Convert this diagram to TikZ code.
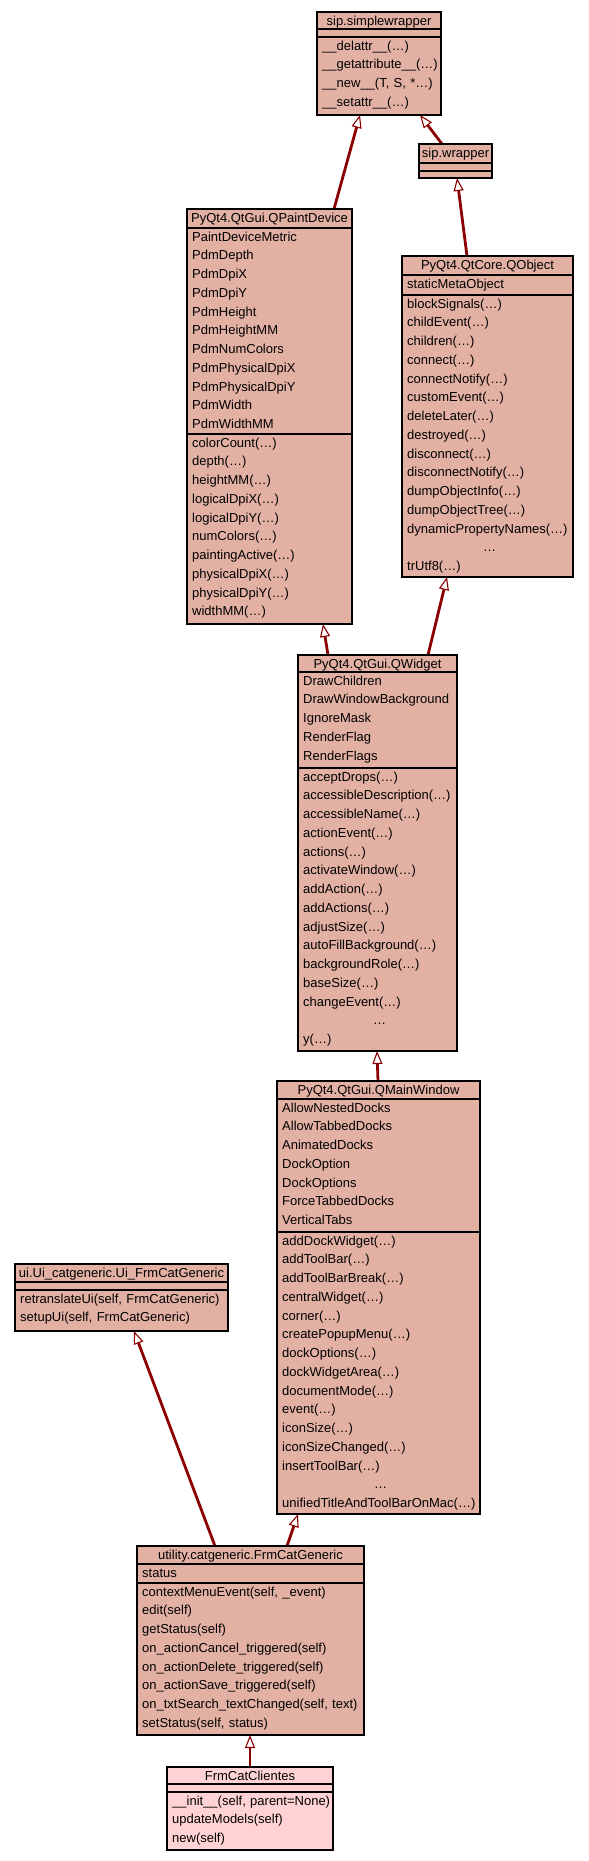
\documentclass[tikz,border=0pt]{standalone}
\usepackage{fontspec}
\setmainfont{Liberation Sans}
\usetikzlibrary{arrows.meta,shadows}
\definecolor{salmon}{RGB}{227,177,164}
\definecolor{pinkfill}{RGB}{255,211,211}
\definecolor{arrowred}{RGB}{139,0,0}
\pgfdeclarelayer{bg}
\pgfsetlayers{bg,main}
\newcommand\umlfont{\fontsize{13}{18.75}\selectfont}
\newcommand\rowfont{\fontsize{13}{18.75}\selectfont\hyphenpenalty=10000\relax\exhyphenpenalty=10000\relax}
\newcommand\topstrut{\vrule width 0pt height 13pt depth 0pt\relax}
\tikzset{
  umlbox/.style={draw=black, line width=1.2pt, inner sep=0pt, outer sep=0pt, anchor=north west,
    drop shadow={shadow xshift=1.2pt, shadow yshift=-1.2pt, fill=black!55, opacity=1}},
  divline/.style={draw=black, line width=1.2pt},
  titletext/.style={anchor=base, inner sep=0pt, font=\umlfont},
  rowtext/.style={anchor=north west, inner sep=0pt, align=left, font=\rowfont},
  inh/.style={draw=arrowred, line width=2.8pt,
    -{Triangle[open,length=13pt,width=10pt,line width=1.1pt,fill=white]}},
}
\newcommand\umlclass[8]{%
  \pgfmathsetmacro\bw{#3-#2}\pgfmathsetmacro\bh{#7-#4}%
  \node[umlbox, fill=#8, minimum width=\bw pt, minimum height=\bh pt] (#1) at (#2,#4) {};
  \draw[divline] (#2,#5) -- (#3,#5);
  \draw[divline] (#2,#6) -- (#3,#6);
}
\newcommand\dotsrow{\leavevmode\hbox to \hsize{\hss…\hss}}
\begin{document}
\begin{tikzpicture}[x=1pt,y=-1pt]
\useasboundingbox (0,0) rectangle (589,1861);

% sip.simplewrapper
\umlclass{sw}{317}{441}{12}{29}{37}{115}{salmon}
\node[titletext] (sw-t) at (379,25) {sip.simplewrapper};
\node[rowtext, text width=118pt] (sw-m) at (322,37) {\topstrut\_\_delattr\_\_(…)\\\_\_getattribute\_\_(…)\\\_\_new\_\_(T, S, *…)\\\_\_setattr\_\_(…)};

% sip.wrapper
\umlclass{wr}{419}{492}{144}{163}{171}{178}{salmon}
\node[titletext] (wr-t) at (455.5,157) {sip.wrapper};

% QPaintDevice
\umlclass{qpd}{187}{352}{209}{228}{434}{624}{salmon}
\node[titletext] (qpd-t) at (269.5,222) {PyQt4.QtGui.QPaintDevice};
\node[rowtext, text width=159pt] (qpd-a) at (192,228) {\topstrut PaintDeviceMetric\\PdmDepth\\PdmDpiX\\PdmDpiY\\PdmHeight\\PdmHeightMM\\PdmNumColors\\PdmPhysicalDpiX\\PdmPhysicalDpiY\\PdmWidth\\PdmWidthMM};
\node[rowtext, text width=159pt] (qpd-m) at (192,434) {\topstrut colorCount(…)\\depth(…)\\heightMM(…)\\logicalDpiX(…)\\logicalDpiY(…)\\numColors(…)\\paintingActive(…)\\physicalDpiX(…)\\physicalDpiY(…)\\widthMM(…)};

% QObject
\umlclass{qo}{402}{573}{256}{275}{295}{577}{salmon}
\node[titletext] (qo-t) at (487.5,269) {PyQt4.QtCore.QObject};
\node[rowtext, text width=165pt] (qo-a) at (407,275) {\topstrut staticMetaObject};
\node[rowtext, text width=165pt] (qo-m) at (407,295) {\topstrut blockSignals(…)\\childEvent(…)\\children(…)\\connect(…)\\connectNotify(…)\\customEvent(…)\\deleteLater(…)\\destroyed(…)\\disconnect(…)\\disconnectNotify(…)\\dumpObjectInfo(…)\\dumpObjectTree(…)\\dynamicPropertyNames(…)\\\dotsrow\\trUtf8(…)};

% QWidget
\umlclass{qw}{298}{457}{655}{672}{768}{1051}{salmon}
\node[titletext] (qw-t) at (377.5,668) {PyQt4.QtGui.QWidget};
\node[rowtext, text width=153pt] (qw-a) at (303,672) {\topstrut DrawChildren\\DrawWindowBackground\\IgnoreMask\\RenderFlag\\RenderFlags};
\node[rowtext, text width=153pt] (qw-m) at (303,768) {\topstrut acceptDrops(…)\\accessibleDescription(…)\\accessibleName(…)\\actionEvent(…)\\actions(…)\\activateWindow(…)\\addAction(…)\\addActions(…)\\adjustSize(…)\\autoFillBackground(…)\\backgroundRole(…)\\baseSize(…)\\changeEvent(…)\\\dotsrow\\y(…)};

% QMainWindow
\umlclass{qmw}{277}{480}{1081}{1099}{1232}{1514}{salmon}
\node[titletext] (qmw-t) at (378.5,1094) {PyQt4.QtGui.QMainWindow};
\node[rowtext, text width=197pt] (qmw-a) at (282,1099) {\topstrut AllowNestedDocks\\AllowTabbedDocks\\AnimatedDocks\\DockOption\\DockOptions\\ForceTabbedDocks\\VerticalTabs};
\node[rowtext, text width=197pt] (qmw-m) at (282,1232) {\topstrut addDockWidget(…)\\addToolBar(…)\\addToolBarBreak(…)\\centralWidget(…)\\corner(…)\\createPopupMenu(…)\\dockOptions(…)\\dockWidgetArea(…)\\documentMode(…)\\event(…)\\iconSize(…)\\iconSizeChanged(…)\\insertToolBar(…)\\\dotsrow\\unifiedTitleAndToolBarOnMac(…)};

% Ui_FrmCatGeneric
\umlclass{ui}{15}{228}{1264}{1282}{1290}{1331}{salmon}
\node[titletext] (ui-t) at (121.5,1277) {ui.Ui\_catgeneric.Ui\_FrmCatGeneric};
\node[rowtext, text width=207pt] (ui-m) at (20,1290) {\topstrut retranslateUi(self, FrmCatGeneric)\\setupUi(self, FrmCatGeneric)};

% FrmCatGeneric
\umlclass{fcg}{137}{364}{1546}{1564}{1583}{1735}{salmon}
\node[titletext] (fcg-t) at (250.5,1559) {utility.catgeneric.FrmCatGeneric};
\node[rowtext, text width=221pt] (fcg-a) at (142,1564) {\topstrut status};
\node[rowtext, text width=221pt] (fcg-m) at (142,1583) {\topstrut contextMenuEvent(self, \_event)\\edit(self)\\getStatus(self)\\on\_actionCancel\_triggered(self)\\on\_actionDelete\_triggered(self)\\on\_actionSave\_triggered(self)\\on\_txtSearch\_textChanged(self, text)\\setStatus(self, status)};

% FrmCatClientes
\umlclass{fcc}{167}{333}{1767}{1784}{1792}{1850}{pinkfill}
\node[titletext] (fcc-t) at (250,1780) {FrmCatClientes};
\node[rowtext, text width=160pt] (fcc-m) at (172,1792) {\topstrut\_\_init\_\_(self, parent=None)\\updateModels(self)\\new(self)};

\begin{pgfonlayer}{bg}
\fill[white] (0,0) rectangle (589,1861);
\draw[inh] ([xshift=-13.5pt]wr.north) -- ([xshift=41pt]sw.south);
\draw[inh] ([xshift=64.5pt]qpd.north) -- ([xshift=-19pt]sw.south);
\draw[inh] ([xshift=-20.5pt]qo.north) -- ([xshift=1.5pt]wr.south);
\draw[inh] ([xshift=-49.5pt]qw.north) -- ([xshift=53.5pt]qpd.south);
\draw[inh] ([xshift=50.5pt]qw.north) -- ([xshift=-40.5pt]qo.south);
\draw[inh] ([xshift=-0.5pt]qmw.north) -- ([xshift=-0.5pt]qw.south);
\draw[inh] ([xshift=-35.5pt]fcg.north) -- ([xshift=12.5pt]ui.south);
\draw[inh] ([xshift=36.5pt]fcg.north) -- ([xshift=-80.5pt]qmw.south);
\draw[inh] (fcc.north) -- ([xshift=-0.5pt]fcg.south);
\end{pgfonlayer}
\end{tikzpicture}
\end{document}
